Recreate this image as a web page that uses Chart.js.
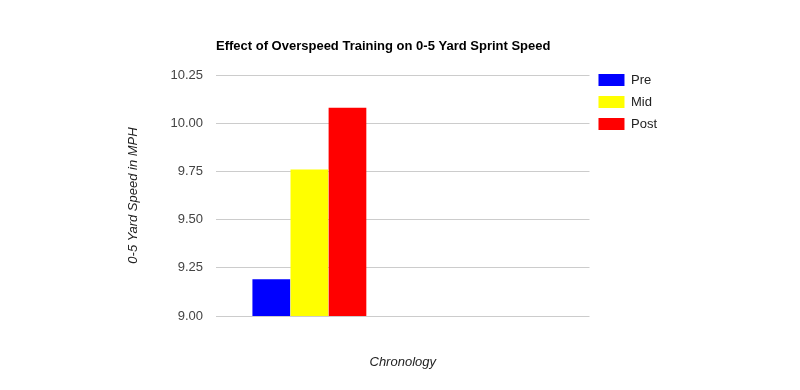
<!DOCTYPE html>
<html lang="en">
<head>
    <meta charset="UTF-8">
    <title>Overspeed Training</title>
    <script src="https://cdn.jsdelivr.net/npm/chart.js"></script>
    <style>
        body { margin: 0; background: #fff; }
    </style>
</head>
<body>
    <canvas id="speedChart" width="800" height="390"></canvas>
    <script>
        // data
        const categories = ["", ""];
        const preSpeed = [9.19, null];
        const midSpeed = [9.76, null];
        const postSpeed = [10.08, null];
        const yTicks = [9.00, 9.25, 9.50, 9.75, 10.00, 10.25];

        const font = "Arial, 'Liberation Sans', sans-serif";

        let ctx = document.getElementById("speedChart").getContext("2d");

        let chart = new Chart(ctx, {
            type: "bar",
            data: {
                labels: categories,
                datasets: [
                    { label: "Pre", data: preSpeed, backgroundColor: "#0000ff" },
                    { label: "Mid", data: midSpeed, backgroundColor: "#ffff00" },
                    { label: "Post", data: postSpeed, backgroundColor: "#ff0000" }
                ]
            },
            options: {
                responsive: false,
                animation: false,
                layout: { padding: { top: 0, right: 133, bottom: 0, left: 0 } },
                datasets: {
                    bar: { categoryPercentage: 0.612, barPercentage: 0.99 }
                },
                plugins: {
                    title: {
                        display: true,
                        text: "Effect of Overspeed Training on 0-5 Yard Sprint Speed",
                        fullSize: false,
                        align: "start",
                        color: "#000",
                        font: { family: font, size: 13, weight: "bold" },
                        padding: { top: 38.2, bottom: 21.2 }
                    },
                    legend: {
                        position: "right",
                        align: "start",
                        title: { display: true, text: "", font: { family: font, size: 13 }, padding: { top: 49, bottom: 0 } },
                        labels: {
                            boxWidth: 26,
                            boxHeight: 12,
                            padding: 9,
                            color: "#222",
                            font: { family: font, size: 13 }
                        }
                    },
                    tooltip: { enabled: false }
                },
                scales: {
                    x: {
                        grid: { display: false, drawTicks: false },
                        border: { display: false },
                        ticks: { display: false },
                        title: {
                            display: true,
                            text: "Chronology",
                            color: "#222",
                            font: { family: font, size: 13, style: "italic" },
                            padding: { top: 38.2, bottom: 20.2 }
                        },
                        afterFit: function(scale) { scale.height = 74; }
                    },
                    y: {
                        min: yTicks[0],
                        max: yTicks[yTicks.length - 1],
                        afterBuildTicks: function(scale) {
                            scale.ticks = yTicks.map(v => ({ value: v }));
                        },
                        grid: { color: "#cccccc", drawTicks: false },
                        border: { display: false },
                        ticks: {
                            padding: 13,
                            color: "#444",
                            font: { family: font, size: 13 },
                            callback: v => Number(v).toFixed(2)
                        },
                        title: {
                            display: true,
                            text: "0-5 Yard Speed in MPH",
                            color: "#222",
                            font: { family: font, size: 13, style: "italic" },
                            padding: { top: 125.2, bottom: 10 }
                        },
                        afterFit: function(scale) { scale.width = 216; }
                    }
                }
            }
        });
    </script>
</body>
</html>
